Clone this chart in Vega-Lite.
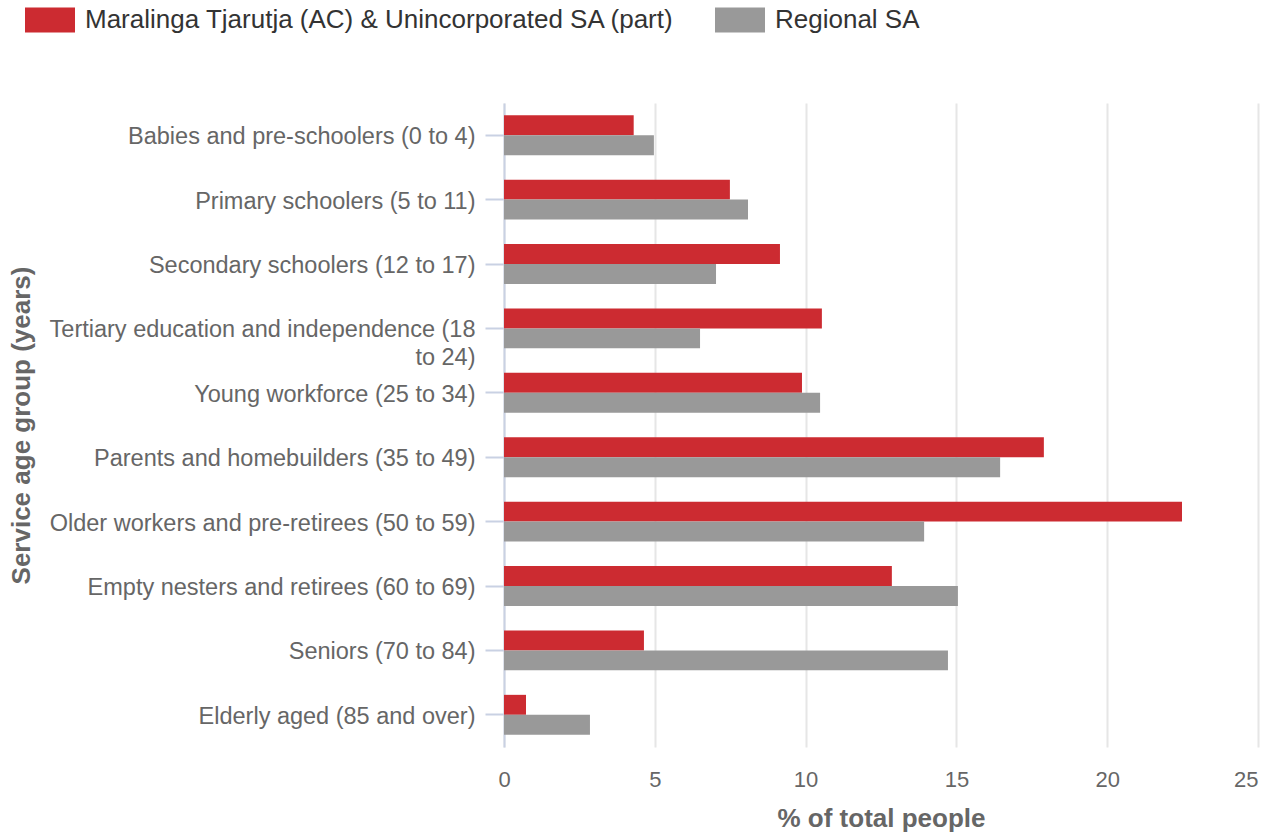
{
  "$schema": "https://vega.github.io/schema/vega-lite/v6.json",
  "width": 754,
  "height": 644,
  "autosize": {"type": "none"},
  "padding": {"left": 504, "top": 103, "right": 10, "bottom": 89},
  "background": "white",
  "config": {
    "font": "Liberation Sans",
    "view": {"stroke": null}
  },
  "data": {
    "values": [
      {"group": "Babies and pre-schoolers (0 to 4)", "area": "Maralinga Tjarutja (AC) & Unincorporated SA (part)", "pct": 4.3},
      {"group": "Babies and pre-schoolers (0 to 4)", "area": "Regional SA", "pct": 4.97},
      {"group": "Primary schoolers (5 to 11)", "area": "Maralinga Tjarutja (AC) & Unincorporated SA (part)", "pct": 7.49},
      {"group": "Primary schoolers (5 to 11)", "area": "Regional SA", "pct": 8.09},
      {"group": "Secondary schoolers (12 to 17)", "area": "Maralinga Tjarutja (AC) & Unincorporated SA (part)", "pct": 9.15},
      {"group": "Secondary schoolers (12 to 17)", "area": "Regional SA", "pct": 7.03},
      {"group": "Tertiary education and independence (18 to 24)", "area": "Maralinga Tjarutja (AC) & Unincorporated SA (part)", "pct": 10.54},
      {"group": "Tertiary education and independence (18 to 24)", "area": "Regional SA", "pct": 6.5},
      {"group": "Young workforce (25 to 34)", "area": "Maralinga Tjarutja (AC) & Unincorporated SA (part)", "pct": 9.88},
      {"group": "Young workforce (25 to 34)", "area": "Regional SA", "pct": 10.48},
      {"group": "Parents and homebuilders (35 to 49)", "area": "Maralinga Tjarutja (AC) & Unincorporated SA (part)", "pct": 17.9},
      {"group": "Parents and homebuilders (35 to 49)", "area": "Regional SA", "pct": 16.45},
      {"group": "Older workers and pre-retirees (50 to 59)", "area": "Maralinga Tjarutja (AC) & Unincorporated SA (part)", "pct": 22.48},
      {"group": "Older workers and pre-retirees (50 to 59)", "area": "Regional SA", "pct": 13.93},
      {"group": "Empty nesters and retirees (60 to 69)", "area": "Maralinga Tjarutja (AC) & Unincorporated SA (part)", "pct": 12.86},
      {"group": "Empty nesters and retirees (60 to 69)", "area": "Regional SA", "pct": 15.05},
      {"group": "Seniors (70 to 84)", "area": "Maralinga Tjarutja (AC) & Unincorporated SA (part)", "pct": 4.64},
      {"group": "Seniors (70 to 84)", "area": "Regional SA", "pct": 14.72},
      {"group": "Elderly aged (85 and over)", "area": "Maralinga Tjarutja (AC) & Unincorporated SA (part)", "pct": 0.73},
      {"group": "Elderly aged (85 and over)", "area": "Regional SA", "pct": 2.85}
    ]
  },
  "mark": {"type": "bar"},
  "encoding": {
    "y": {
      "field": "group",
      "type": "nominal",
      "sort": null,
      "scale": {"paddingInner": 0.38, "paddingOuter": 0.19},
      "axis": {
        "title": "Service age group (years)",
        "titleFontSize": 26,
        "titleFontWeight": "bold",
        "titleColor": "#666666",
        "titleX": -470,
        "titleBaseline": "bottom",
        "labelFontSize": 23.5,
        "labelColor": "#666666",
        "labelPadding": 10,
        "labelLimit": 0,
        "labelOffset": 2,
        "labelExpr": "datum.value == 'Tertiary education and independence (18 to 24)' ? ['Tertiary education and independence (18', 'to 24)'] : datum.label",
        "labelLineHeight": 28,
        "tickSize": 19,
        "tickColor": "#c9d1e3",
        "tickWidth": 2,
        "domainColor": "#c9d1e3",
        "domainWidth": 2,
        "grid": false
      }
    },
    "yOffset": {
      "field": "area",
      "type": "nominal",
      "sort": ["Maralinga Tjarutja (AC) & Unincorporated SA (part)", "Regional SA"],
      "scale": {"paddingInner": 0, "paddingOuter": 0}
    },
    "x": {
      "field": "pct",
      "type": "quantitative",
      "scale": {"domain": [0, 25], "nice": false},
      "axis": {
        "title": "% of total people",
        "titleFontSize": 26,
        "titleFontWeight": "bold",
        "titleColor": "#666666",
        "titlePadding": 15,
        "labelFontSize": 22,
        "labelColor": "#666666",
        "labelPadding": 22,
        "labelFlush": false,
        "labelOverlap": false,
        "labelAlign": {"condition": {"test": "datum.value == 25", "value": "right"}, "value": "center"},
        "values": [0, 5, 10, 15, 20, 25],
        "ticks": false,
        "domain": false,
        "grid": true,
        "gridColor": "#e6e6e6",
        "gridWidth": 2
      }
    },
    "color": {
      "field": "area",
      "type": "nominal",
      "sort": ["Maralinga Tjarutja (AC) & Unincorporated SA (part)", "Regional SA"],
      "scale": {"range": ["#cc2b31", "#999999"]},
      "legend": {
        "title": null,
        "orient": "none",
        "direction": "horizontal",
        "legendX": -479,
        "legendY": -108,
        "symbolType": "M-1,-0.5H1V0.5H-1Z",
        "symbolSize": 2500,
        "symbolStrokeWidth": 0,
        "symbolOpacity": 1,
        "labelFontSize": 26,
        "labelColor": "#333333",
        "labelOffset": 10,
        "labelLimit": 0,
        "columnPadding": 40
      }
    }
  }
}
